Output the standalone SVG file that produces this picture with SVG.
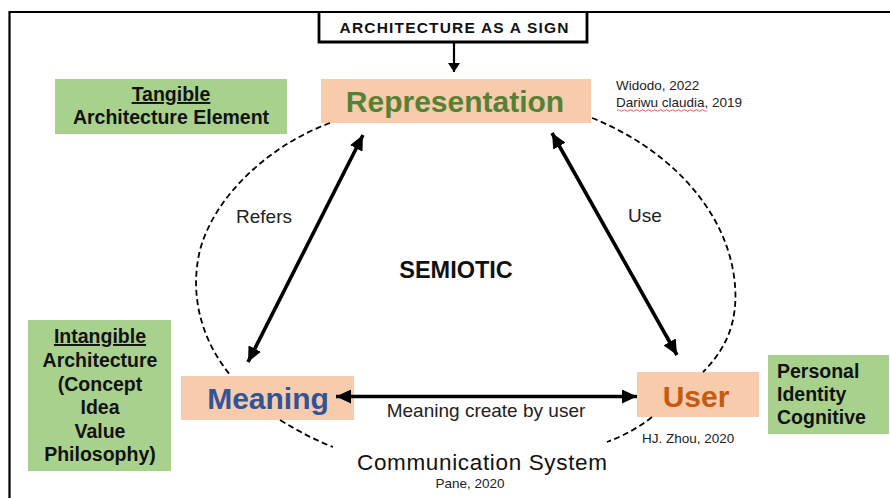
<svg xmlns="http://www.w3.org/2000/svg" width="890" height="498" viewBox="0 0 890 498">
<style>
.frame{fill:none;stroke:#000;stroke-width:2.2}
.peach{fill:#F8CBAD}
.green{fill:#A9D18E}
.big{font-family:"Liberation Sans",Arial,sans-serif;font-weight:bold;font-size:30px;text-anchor:middle}
.bold{font-family:"Liberation Sans",Arial,sans-serif;font-weight:bold;font-size:19.5px;fill:#111}
.lbl{font-family:"Liberation Sans",Arial,sans-serif;font-size:19px;fill:#222;text-anchor:middle}
.ref{font-family:"Liberation Sans",Arial,sans-serif;font-size:13.5px;fill:#222}
.dash{fill:none;stroke:#000;stroke-width:1.8;stroke-dasharray:6 3.5}
.arr{stroke:#000;stroke-width:3.6;fill:none;marker-start:url(#ah);marker-end:url(#ah)}
</style>
<defs>
<marker id="ah" markerUnits="userSpaceOnUse" markerWidth="16" markerHeight="14" refX="15" refY="7" orient="auto-start-reverse">
<path d="M0,0 L15,7 L0,14 z" fill="#000"/>
</marker>
<marker id="ah2" markerUnits="userSpaceOnUse" markerWidth="12" markerHeight="12" refX="9" refY="6" orient="auto">
<path d="M0,0 L9,6 L0,12 z" fill="#000"/>
</marker>
</defs>
<rect width="890" height="498" fill="#fff"/>
<g id="frame">
<path class="frame" d="M9.5 498 V12 H890"/>
</g>
<g id="sign">
<path d="M319 12 V42 H587 V12" fill="none" stroke="#000" stroke-width="2.8"/>
<text x="454" y="33" font-family="'Liberation Sans',Arial,sans-serif" font-weight="bold" font-size="15.5px" text-anchor="middle" textLength="229" fill="#111">ARCHITECTURE AS A SIGN</text>
</g>
<g id="representation">
<rect class="peach" x="321" y="79" width="270" height="44"/>
<text class="big" x="455" y="112" fill="#548235">Representation</text>
</g>
<g id="refs-top">
<text class="ref" x="616" y="90">Widodo, 2022</text>
<text class="ref" x="616" y="107">Dariwu claudia, 2019</text>
<path d="M617 110.5 q1.5 -1.5 3 0 t3 0 t3 0 t3 0 t3 0 t3 0 t3 0 t3 0 t3 0 t3 0 t3 0 t3 0 t3 0 t3 0 t3 0 t3 0 t3 0 t3 0 t3 0 t3 0 t3 0 t3 0 t3 0 t3 0 t3 0 t3 0 t3 0 t3 0 t3 0 t3 0" fill="none" stroke="#E03030" stroke-width="0.8"/>
</g>
<g id="tangible">
<rect class="green" x="55" y="79" width="232" height="55"/>
<text class="bold" x="171" y="101" text-anchor="middle" text-decoration="underline">Tangible</text>
<text class="bold" x="171" y="124" text-anchor="middle">Architecture Element</text>
</g>
<g id="intangible">
<rect class="green" x="28" y="320" width="143" height="151"/>
<text class="bold" x="100" y="343" text-anchor="middle" text-decoration="underline">Intangible</text>
<text class="bold" x="100" y="367" text-anchor="middle">Architecture</text>
<text class="bold" x="100" y="390.5" text-anchor="middle">(Concept</text>
<text class="bold" x="100" y="414" text-anchor="middle">Idea</text>
<text class="bold" x="100" y="437.5" text-anchor="middle">Value</text>
<text class="bold" x="100" y="461" text-anchor="middle">Philosophy)</text>
</g>
<g id="meaning">
<rect class="peach" x="181" y="376" width="173" height="44"/>
<text class="big" x="268" y="409" fill="#2F5597">Meaning</text>
</g>
<g id="user">
<rect class="peach" x="637" y="372" width="122" height="45"/>
<text class="big" x="696" y="407" fill="#C55A11">User</text>
</g>
<g id="personal">
<rect class="green" x="768" y="355" width="121" height="79"/>
<text class="bold" x="777" y="378">Personal</text>
<text class="bold" x="777" y="401">Identity</text>
<text class="bold" x="777" y="424">Cognitive</text>
</g>
<g id="connectors">
<line x1="454" y1="42" x2="454" y2="72" stroke="#000" stroke-width="2.2" marker-end="url(#ah2)"/>
<path class="dash" d="M330 123 C 270 145, 215 195, 200 250 C 188 300, 205 345, 231 376"/>
<path class="dash" d="M592 118 C 660 145, 720 200, 733 270 C 742 320, 725 350, 703 372"/>
<path class="dash" d="M280 420 C 300 432, 315 440, 333 447"/>
<path class="dash" d="M652 417 C 638 428, 625 435, 607 442"/>
<line class="arr" x1="363" y1="135" x2="248" y2="362"/>
<line class="arr" x1="552" y1="133" x2="677" y2="355"/>
<line class="arr" x1="336" y1="396.5" x2="637" y2="396.5"/>
</g>
<g id="labels">
<text class="lbl" x="264" y="223">Refers</text>
<text class="lbl" x="645" y="222">Use</text>
<text class="lbl" x="486" y="417">Meaning create by user</text>
<text x="456" y="278" font-family="'Liberation Sans',Arial,sans-serif" font-weight="bold" font-size="23.5px" text-anchor="middle" fill="#111">SEMIOTIC</text>
<text x="482" y="470" font-family="'Liberation Sans',Arial,sans-serif" font-size="22.5px" text-anchor="middle" textLength="250" fill="#111">Communication System</text>
<text class="ref" x="470" y="488" text-anchor="middle" font-size="12px">Pane, 2020</text>
<text class="ref" x="642" y="443" font-size="13px">HJ. Zhou, 2020</text>
</g>
</svg>
